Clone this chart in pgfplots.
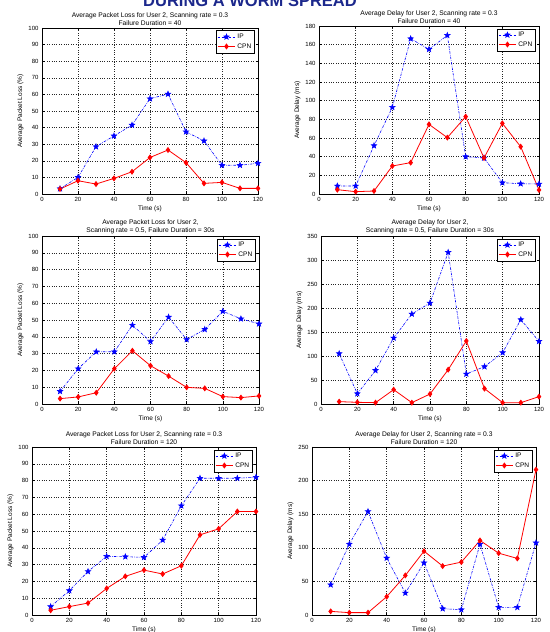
\documentclass[border=0pt]{standalone}
\usepackage{fontspec}
\setmainfont{Liberation Sans}
\usepackage{pgfplots}
\pgfplotsset{compat=1.18}

\definecolor{ipblue}{RGB}{0,0,255}
\definecolor{cpnred}{RGB}{255,0,0}
\definecolor{headblue}{RGB}{28,40,140}

\pgfdeclareplotmark{pstar}{%
  \pgfpathmoveto{\pgfpointpolar{90}{\pgfplotmarksize}}%
  \pgfpathlineto{\pgfpointpolar{126}{0.42*\pgfplotmarksize}}%
  \pgfpathlineto{\pgfpointpolar{162}{\pgfplotmarksize}}%
  \pgfpathlineto{\pgfpointpolar{198}{0.42*\pgfplotmarksize}}%
  \pgfpathlineto{\pgfpointpolar{234}{\pgfplotmarksize}}%
  \pgfpathlineto{\pgfpointpolar{270}{0.42*\pgfplotmarksize}}%
  \pgfpathlineto{\pgfpointpolar{306}{\pgfplotmarksize}}%
  \pgfpathlineto{\pgfpointpolar{342}{0.42*\pgfplotmarksize}}%
  \pgfpathlineto{\pgfpointpolar{18}{\pgfplotmarksize}}%
  \pgfpathlineto{\pgfpointpolar{54}{0.42*\pgfplotmarksize}}%
  \pgfpathclose
  \pgfusepathqfillstroke
}

\pgfplotsset{
  mplot/.style={
    scale only axis, anchor=south west,
    xmin=0, xmax=120, xtick={0,20,...,120}, ymin=0,
    clip=false,
    grid=major, major grid style={black!85, dotted, line width=0.35pt},
    axis line style={black, line width=0.5pt},
    tick style={black, line width=0.4pt}, major tick length=2.5pt,
    tick align=inside,
    ticklabel style={font=\fontsize{6}{7}\selectfont},
    /pgf/number format/assume math mode=true,
    label style={font=\fontsize{6.5}{7.5}\selectfont},
    title style={font=\fontsize{6.7}{8}\selectfont, align=center, yshift=-7.5pt},
    xlabel={Time (s)},
    xlabel style={yshift=3pt},
    ylabel style={yshift=-2pt},
    legend style={at={(0.985,0.985)}, anchor=north east,
      font=\fontsize{6.6}{7.5}\selectfont, draw=black, line width=0.4pt,
      inner sep=1.2pt, row sep=-0.5pt, cells={anchor=west}},
    legend cell align=left,
  },
  ip/.style={ipblue, line width=0.6pt, dash pattern=on 2.5pt off 1.2pt on 0.6pt off 1.2pt,
    mark=pstar, mark size=2.8pt, mark options={solid, fill=ipblue}},
  cpn/.style={cpnred, line width=0.8pt, solid, mark=diamond*, mark size=2.4pt,
    mark options={solid, fill=cpnred}},
}

\begin{document}
\begin{tikzpicture}
\useasboundingbox (0,0) rectangle (549pt,632pt);
\begin{scope}
\clip (0,0) rectangle (549pt,632pt);
\node[anchor=base, inner sep=0pt, text=headblue, font=\fontsize{16.5}{18}\selectfont\bfseries] at (250pt,625.5pt) {DURING A WORM SPREAD};
\end{scope}

% Plot 1
\begin{axis}[mplot, at={(42pt,438pt)}, width=216pt, height=166pt,
  ymax=100, ytick={0,10,...,100},
  ylabel={Average Packet Loss (\%)},
  title={Average Packet Loss for User 2, Scanning rate = 0.3\\Failure Duration = 40}]
\addplot[ip] coordinates {(10,3.2)(20,10)(30,28.5)(40,35)(50,41.5)(60,57.4)(70,60.2)(80,37.5)(90,32)(100,17.3)(110,17.3)(120,18.5)};
\addplot[cpn] coordinates {(10,3)(20,8)(30,6)(40,9.4)(50,13.4)(60,22)(70,26.5)(80,18.9)(90,6.4)(100,7)(110,3.4)(120,3.4)};
\legend{IP,CPN}
\end{axis}

% Plot 2
\begin{axis}[mplot, at={(319pt,438pt)}, width=220pt, height=168pt,
  ymax=180, ytick={0,20,...,180},
  ylabel={Average Delay (ms)},
  title={Average Delay for User 2, Scanning rate = 0.3\\Failure Duration = 40}]
\addplot[ip] coordinates {(10,8.6)(20,8.6)(30,51.8)(40,92.9)(50,166.4)(60,155)(70,170)(80,40)(90,38.6)(100,12.1)(110,11)(120,10.7)};
\addplot[cpn] coordinates {(10,4.6)(20,2.5)(30,3.2)(40,30)(50,33.6)(60,74.6)(70,60.4)(80,82.9)(90,38.6)(100,75.7)(110,50.7)(120,4.3)};
\legend{IP,CPN}
\end{axis}

% Plot 3
\begin{axis}[mplot, at={(42pt,228pt)}, width=217pt, height=168pt,
  ymax=100, ytick={0,10,...,100},
  ylabel={Average Packet Loss (\%)},
  title={Average Packet Loss for User 2,\\Scanning rate = 0.5, Failure Duration = 30s}]
\addplot[ip] coordinates {(10,7.5)(20,21)(30,31.1)(40,31.1)(50,46.9)(60,37.2)(70,51.7)(80,38.4)(90,44.4)(100,55.2)(110,50.7)(120,47.7)};
\addplot[cpn] coordinates {(10,3.2)(20,4.2)(30,6.7)(40,21)(50,31.7)(60,22.8)(70,16.6)(80,9.9)(90,9.3)(100,4.4)(110,3.8)(120,4.8)};
\legend{IP,CPN}
\end{axis}

% Plot 4
\begin{axis}[mplot, at={(321pt,228pt)}, width=218pt, height=168pt,
  ymax=350, ytick={0,50,...,350},
  ylabel={Average Delay (ms)},
  title={Average Delay for User 2,\\Scanning rate = 0.5, Failure Duration = 30s}]
\addplot[ip] coordinates {(10,104.9)(20,21.5)(30,70)(40,137.5)(50,187.5)(60,210.4)(70,316)(80,62.5)(90,77.8)(100,107)(110,175.7)(120,130.6)};
\addplot[cpn] coordinates {(10,4.9)(20,3.5)(30,2.8)(40,29.9)(50,2.8)(60,20.8)(70,71.5)(80,131.3)(90,32)(100,2.8)(110,2.8)(120,15.3)};
\legend{IP,CPN}
\end{axis}

% Plot 5
\begin{axis}[mplot, at={(32pt,17pt)}, width=224pt, height=168pt,
  ymax=100, ytick={0,10,...,100},
  ylabel={Average Packet Loss (\%)},
  title={Average Packet Loss for User 2, Scanning rate = 0.3\\Failure Duration = 120}]
\addplot[ip] coordinates {(10,5)(20,14.5)(30,25.9)(40,34.9)(50,34.7)(60,34.3)(70,44.6)(80,65)(90,81.4)(100,81.4)(110,81.4)(120,82)};
\addplot[cpn] coordinates {(10,2.8)(20,5)(30,7.1)(40,15.8)(50,23)(60,26.7)(70,24.4)(80,29.3)(90,47.7)(100,51.3)(110,61.6)(120,61.6)};
\legend{IP,CPN}
\end{axis}

% Plot 6
\begin{axis}[mplot, at={(312pt,17pt)}, width=224pt, height=168pt,
  ymax=250, ytick={0,50,...,250},
  ylabel={Average Delay (ms)},
  title={Average Delay for User 2, Scanning rate = 0.3\\Failure Duration = 120}]
\addplot[ip] coordinates {(10,45)(20,105.4)(30,154)(40,84.7)(50,32.7)(60,77.7)(70,9.4)(80,7.9)(90,105.4)(100,11.4)(110,11.4)(120,107.4)};
\addplot[cpn] coordinates {(10,5.4)(20,3.5)(30,3.5)(40,27.2)(50,58.9)(60,95)(70,72.8)(80,78.7)(90,110.9)(100,92)(110,84.2)(120,216.3)};
\legend{IP,CPN}
\end{axis}
\end{tikzpicture}
\end{document}
